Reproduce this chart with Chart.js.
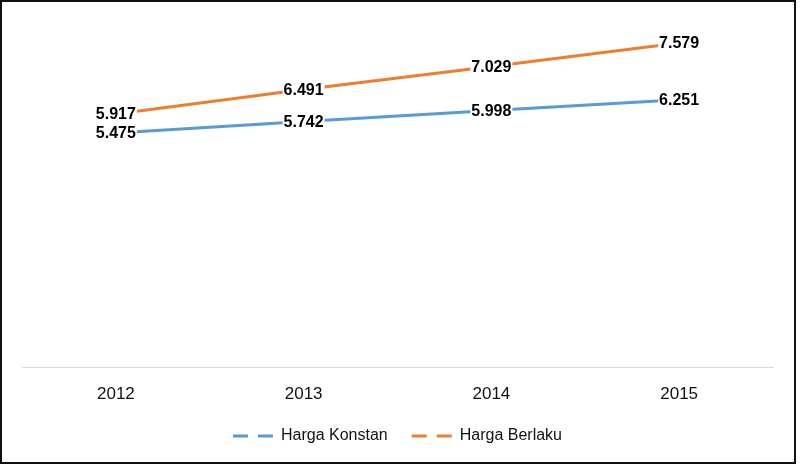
<!DOCTYPE html>
<html>
<head>
<meta charset="utf-8">
<script src="https://cdn.jsdelivr.net/npm/chart.js@4/dist/chart.umd.min.js"></script>
<style>
  html, body { margin: 0; padding: 0; background: #fff; }
  #wrap { position: relative; width: 800px; height: 464px; }
  #frame {
    position: absolute; left: 0; top: 0; width: 796px; height: 464px;
    border: 2px solid #111; box-sizing: border-box; pointer-events: none;
  }
</style>
</head>
<body>
<div id="wrap">
  <canvas id="chart" width="800" height="464"></canvas>
  <div id="frame"></div>
</div>
<script>
'use strict';

// ── Data ──────────────────────────────────────────────────────────────────────
const years = ['2012', '2013', '2014', '2015'];
const hargaKonstan = [5.475, 5.742, 5.998, 6.251];
const hargaBerlaku = [5.917, 6.491, 7.029, 7.579];

const BLUE = '#5B9BD5';
const ORANGE = '#ED7D31';

// ── Value labels with white box, centred on each point ───────────────────────
const valueLabels = {
  id: 'valueLabels',
  afterDatasetsDraw(chart) {
    let ctx = chart.ctx;
    ctx.save();
    ctx.font = 'bold 16px "Liberation Sans", Arial, sans-serif';
    ctx.textAlign = 'center';
    ctx.textBaseline = 'middle';
    chart.data.datasets.forEach((ds, i) => {
      chart.getDatasetMeta(i).data.forEach((pt, j) => {
        let txt = ds.data[j].toFixed(3);
        let w = ctx.measureText(txt).width;
        ctx.fillStyle = '#fff';
        ctx.fillRect(pt.x - w / 2 - 1, pt.y - 8, w + 2, 16);
        ctx.fillStyle = '#000';
        ctx.fillText(txt, pt.x, pt.y + 1);
      });
    });
    ctx.restore();
  }
};

// ── Chart ─────────────────────────────────────────────────────────────────────
new Chart(document.getElementById('chart'), {
  type: 'line',
  data: {
    labels: years,
    datasets: [
      {
        label: 'Harga Konstan',
        data: hargaKonstan,
        borderColor: BLUE,
        backgroundColor: BLUE,
        borderWidth: 3,
        pointRadius: 0,
        tension: 0,
      },
      {
        label: 'Harga Berlaku',
        data: hargaBerlaku,
        borderColor: ORANGE,
        backgroundColor: ORANGE,
        borderWidth: 3,
        pointRadius: 0,
        tension: 0,
      },
    ],
  },
  options: {
    responsive: false,
    animation: false,
    layout: { padding: { left: 22, right: 27, top: 25, bottom: 10 } },
    scales: {
      x: {
        offset: true,
        clip: false,
        grid: { display: false, drawTicks: false },
        border: { display: true, color: '#d9d9d9', width: 1 },
        ticks: {
          color: '#111',
          padding: 17,
          font: { family: '"Liberation Sans", Arial, sans-serif', size: 17 },
        },
        afterFit(scale) { scale.height = 37; },
      },
      y: { display: false, min: 0, max: 8 },
    },
    plugins: {
      tooltip: { enabled: false },
      legend: {
        position: 'bottom',
        labels: {
          color: '#111',
          font: { family: '"Liberation Sans", Arial, sans-serif', size: 16 },
          usePointStyle: true,
          boxWidth: 40,
          boxHeight: 16,
          pointStyleWidth: 40,
          padding: 24,
          generateLabels(chart) {
            return chart.data.datasets.map((ds, i) => ({
              text: ds.label,
              strokeStyle: ds.borderColor,
              fillStyle: ds.borderColor,
              fontColor: '#111',
              lineWidth: 3,
              lineDash: [15, 10],
              pointStyle: 'line',
              datasetIndex: i,
              hidden: false,
            }));
          },
        },
      },
    },
  },
  plugins: [valueLabels],
});
</script>
</body>
</html>
